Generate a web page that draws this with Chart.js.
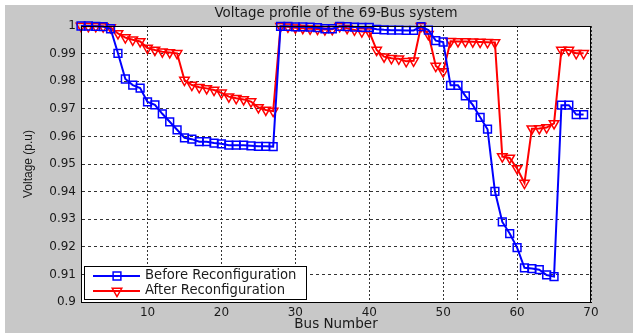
<!DOCTYPE html>
<html>
<head>
<meta charset="utf-8">
<title>Voltage profile of the 69-Bus system</title>
<script src="https://cdn.jsdelivr.net/npm/chart.js@4.4.1/dist/chart.umd.min.js"></script>
<style>
    html, body { margin: 0; padding: 0; background: #ffffff; }
    canvas { display: block; }
</style>
</head>
<body>
<canvas id="voltageChart" width="633" height="333"></canvas>
<script>
// ====== DATA ======
const busNumbers = [1, 2, 3, 4, 5, 6, 7, 8, 9, 10, 11, 12, 13, 14, 15, 16, 17, 18, 19, 20,
    21, 22, 23, 24, 25, 26, 27, 28, 29, 30, 31, 32, 33, 34, 35, 36, 37, 38, 39, 40,
    41, 42, 43, 44, 45, 46, 47, 48, 49, 50, 51, 52, 53, 54, 55, 56, 57, 58, 59, 60,
    61, 62, 63, 64, 65, 66, 67, 68, 69];

const beforeReconfig = [1.0000, 1.0000, 0.9999, 0.9998, 0.9990, 0.9901, 0.9808, 0.9786, 0.9775, 0.9725,
    0.9714, 0.9682, 0.9653, 0.9624, 0.9595, 0.9590, 0.9581, 0.9581, 0.9576, 0.9573,
    0.9568, 0.9568, 0.9568, 0.9566, 0.9564, 0.9564, 0.9563, 0.9999, 0.9999, 0.9997,
    0.9997, 0.9996, 0.9994, 0.9990, 0.9990, 0.9999, 0.9998, 0.9996, 0.9995, 0.9995,
    0.9988, 0.9986, 0.9985, 0.9985, 0.9984, 0.9984, 0.9998, 0.9985, 0.9947, 0.9942,
    0.9785, 0.9785, 0.9747, 0.9714, 0.9669, 0.9626, 0.9401, 0.9290, 0.9248, 0.9197,
    0.9124, 0.9121, 0.9117, 0.9098, 0.9092, 0.9713, 0.9713, 0.9679, 0.9679];

const afterReconfig = [1.0000, 0.9999, 0.9999, 0.9998, 0.9995, 0.9973, 0.9958, 0.9950, 0.9944, 0.9920,
    0.9913, 0.9907, 0.9904, 0.9901, 0.9804, 0.9786, 0.9778, 0.9774, 0.9768, 0.9758,
    0.9744, 0.9738, 0.9734, 0.9726, 0.9705, 0.9696, 0.9692, 0.9999, 0.9997, 0.9994,
    0.9992, 0.9990, 0.9989, 0.9987, 0.9988, 0.9999, 0.9992, 0.9986, 0.9980, 0.9979,
    0.9913, 0.9889, 0.9883, 0.9881, 0.9872, 0.9874, 0.9999, 0.9970, 0.9855, 0.9835,
    0.9945, 0.9944, 0.9944, 0.9943, 0.9942, 0.9941, 0.9940, 0.9527, 0.9522, 0.9484,
    0.9431, 0.9628, 0.9629, 0.9632, 0.9647, 0.9913, 0.9913, 0.9901, 0.9901];

const xTicks = [10, 20, 30, 40, 50, 60, 70];
const yTicks = [0.9, 0.91, 0.92, 0.93, 0.94, 0.95, 0.96, 0.97, 0.98, 0.99, 1];
const yTickLabels = ["0.9", "0.91", "0.92", "0.93", "0.94", "0.95", "0.96", "0.97", "0.98", "0.99", "1"];

const textColor = "#1a1a1a";
const tickFont = { family: "'DejaVu Sans', sans-serif", size: 12 };

// gray matlab-like figure + white axes + title + box
const figurePlugin = {
    id: "figure",
    beforeDraw(chart) {
        const ctx = chart.ctx;
        const a = chart.chartArea;
        ctx.save();
        ctx.fillStyle = "#ffffff";
        ctx.fillRect(0, 0, chart.width, chart.height);
        ctx.fillStyle = "#c8c8c8";
        ctx.fillRect(5, 5, chart.width - 5, chart.height - 5);
        ctx.fillStyle = "#ffffff";
        ctx.fillRect(a.left, a.top, a.right - a.left, a.bottom - a.top);

        ctx.fillStyle = textColor;
        ctx.font = "13.4px 'DejaVu Sans', sans-serif";
        ctx.textAlign = "center";
        ctx.textBaseline = "middle";
        ctx.fillText("Voltage profile of the 69-Bus system", (a.left + a.right) / 2, 14);
        ctx.restore();
    },
    afterDraw(chart) {
        const ctx = chart.ctx;
        const a = chart.chartArea;
        ctx.save();
        ctx.strokeStyle = "#000000";
        ctx.lineWidth = 1;
        ctx.strokeRect(a.left + 0.5, a.top + 0.5, a.right - a.left - 1, a.bottom - a.top);
        ctx.restore();
    }
};

// legend box inside the plot, bottom left
const legendBoxPlugin = {
    id: "legendBox",
    afterDatasetsDraw(chart) {
        const ctx = chart.ctx;
        const a = chart.chartArea;
        const x = a.left + 3;
        const y = a.bottom - 36;
        ctx.save();
        ctx.fillStyle = "#ffffff";
        ctx.fillRect(x, y, 222, 33);
        ctx.strokeStyle = "#000000";
        ctx.lineWidth = 1;
        ctx.strokeRect(x + 0.5, y + 0.5, 222, 33);

        chart.data.datasets.forEach((ds, i) => {
            const ly = y + 10 + i * 15;
            ctx.strokeStyle = ds.borderColor;
            ctx.lineWidth = 2;
            ctx.beginPath();
            ctx.moveTo(x + 9, ly);
            ctx.lineTo(x + 56, ly);
            ctx.stroke();
            ctx.fillStyle = "rgba(0,0,0,0)";
            ctx.lineWidth = ds.pointBorderWidth;
            Chart.helpers.drawPoint(ctx, {
                pointStyle: ds.pointStyle,
                radius: ds.pointRadius,
                rotation: ds.pointRotation,
                borderWidth: ds.pointBorderWidth
            }, x + 33, ly);

            ctx.fillStyle = textColor;
            ctx.font = "13.2px 'DejaVu Sans', sans-serif";
            ctx.textAlign = "left";
            ctx.textBaseline = "middle";
            ctx.fillText(ds.label, x + 61, ly);
        });
        ctx.restore();
    }
};

document.addEventListener("DOMContentLoaded", () => {
    const ctx = document.getElementById("voltageChart").getContext("2d");

    new Chart(ctx, {
        type: "line",
        data: {
            labels: busNumbers,
            datasets: [
                {
                    label: "Before Reconfiguration",
                    data: busNumbers.map((b, i) => ({ x: b, y: beforeReconfig[i] })),
                    borderColor: "#0000ff",
                    backgroundColor: "rgba(0,0,0,0)",
                    borderWidth: 2,
                    tension: 0,
                    pointStyle: "rect",
                    pointRadius: 5.5,
                    pointRotation: 0,
                    pointBorderWidth: 1.5,
                    pointBorderColor: "#0000ff",
                    pointBackgroundColor: "rgba(0,0,0,0)",
                    clip: 8
                },
                {
                    label: "After Reconfiguration",
                    data: busNumbers.map((b, i) => ({ x: b, y: afterReconfig[i] })),
                    borderColor: "#ff0000",
                    backgroundColor: "rgba(0,0,0,0)",
                    borderWidth: 2,
                    tension: 0,
                    pointStyle: "triangle",
                    pointRadius: 5.5,
                    pointRotation: 180,
                    pointBorderWidth: 1.5,
                    pointBorderColor: "#ff0000",
                    pointBackgroundColor: "rgba(0,0,0,0)",
                    clip: 8
                }
            ]
        },
        options: {
            responsive: false,
            animation: false,
            layout: {
                padding: { left: 0, top: 26, right: 42, bottom: 0 }
            },
            plugins: {
                legend: { display: false },
                tooltip: { enabled: false }
            },
            scales: {
                x: {
                    type: "linear",
                    min: 1,
                    max: 70,
                    afterBuildTicks: (scale) => {
                        scale.ticks = xTicks.map(v => ({ value: v }));
                    },
                    afterFit: (scale) => { scale.height = 31; },
                    ticks: {
                        color: textColor,
                        font: tickFont,
                        padding: 4,
                        maxRotation: 0,
                        autoSkip: false
                    },
                    grid: {
                        color: "#333333",
                        lineWidth: 1,
                        drawTicks: false
                    },
                    border: { display: true, color: "#000000", width: 1, dash: [2, 2] },
                    title: {
                        display: true,
                        text: "Bus Number",
                        color: textColor,
                        font: { family: "'DejaVu Sans', sans-serif", size: 13.5 },
                        padding: { top: 0, bottom: 0 }
                    }
                },
                y: {
                    type: "linear",
                    min: 0.9,
                    max: 1,
                    afterBuildTicks: (scale) => {
                        scale.ticks = yTicks.map(v => ({ value: v }));
                    },
                    afterFit: (scale) => { scale.width = 81; },
                    ticks: {
                        color: textColor,
                        font: tickFont,
                        padding: 5,
                        callback: (value, index) => yTickLabels[index]
                    },
                    grid: {
                        color: "#333333",
                        lineWidth: 1,
                        drawTicks: false
                    },
                    border: { display: true, color: "#000000", width: 1, dash: [3, 3] },
                    title: {
                        display: true,
                        text: "Voltage (p.u)",
                        color: textColor,
                        font: { family: "'Liberation Sans', Arial, sans-serif", size: 12 },
                        padding: { top: 21, bottom: 0 }
                    }
                }
            }
        },
        plugins: [figurePlugin, legendBoxPlugin]
    });
});
</script>
</body>
</html>
